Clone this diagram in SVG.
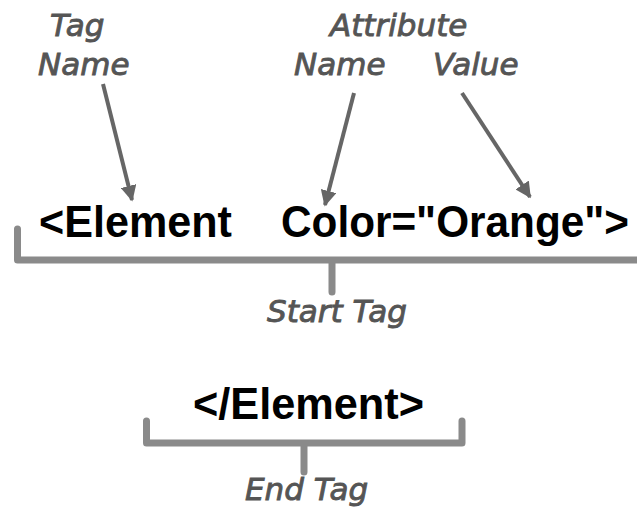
<svg xmlns="http://www.w3.org/2000/svg" width="637" height="510" viewBox="0 0 637 510">
  <style>
    .label { font-family: "DejaVu Sans", Verdana, sans-serif; font-style: italic; font-size: 31px; fill: #555555; stroke: #555555; stroke-width: 0.9; }
    .code { font-family: "Liberation Sans", Arial, sans-serif; font-weight: bold; font-size: 44px; fill: #000000; }
    .arrow { stroke: #666666; stroke-width: 4; fill: none; marker-end: url(#head); }
    .bracket { stroke: #8a8a8a; stroke-width: 7; fill: none; stroke-linecap: round; stroke-linejoin: round; }
  </style>
  <defs>
    <marker id="head" viewBox="0 0 10 10" refX="9" refY="5" markerWidth="4" markerHeight="4" orient="auto" markerUnits="strokeWidth">
      <path d="M0,0 L10,5 L0,10 z" fill="#666666"/>
    </marker>
  </defs>
  <rect width="637" height="510" fill="#ffffff"/>

  <!-- labels -->
  <g id="tag-name">
    <text class="label" x="50" y="36">Tag</text>
    <text class="label" x="38" y="75">Name</text>
  </g>
  <g id="attribute-name">
    <text class="label" x="330" y="36">Attribute</text>
    <text class="label" x="294" y="75">Name</text>
  </g>
  <g id="attribute-value">
    <text class="label" x="433" y="75">Value</text>
  </g>

  <!-- start tag -->
  <g id="start-tag">
    <text class="code" x="39" y="237" textLength="193" lengthAdjust="spacingAndGlyphs">&lt;Element</text>
    <text class="code" x="281" y="237" font-size="43" textLength="348" lengthAdjust="spacingAndGlyphs">Color="Orange"&gt;</text>
  </g>
  <g id="start-tag-label">
    <text class="label" x="267" y="322">Start Tag</text>
  </g>

  <!-- end tag -->
  <g id="end-tag">
    <text class="code" x="193" y="419" textLength="231" lengthAdjust="spacingAndGlyphs">&lt;/Element&gt;</text>
  </g>
  <g id="end-tag-label">
    <text class="label" x="245" y="500">End Tag</text>
  </g>

  <!-- connectors -->
  <g id="connectors">
    <line class="arrow" x1="103" y1="84" x2="132" y2="200"/>
    <line class="arrow" x1="354" y1="93" x2="325" y2="205"/>
    <line class="arrow" x1="462" y1="93" x2="530" y2="197"/>
    <path class="bracket" d="M17.5,229 V260 H645 M332,260 V292"/>
    <path class="bracket" d="M146.5,421 V443 H462 V421 M304,443 V472"/>
  </g>
</svg>
